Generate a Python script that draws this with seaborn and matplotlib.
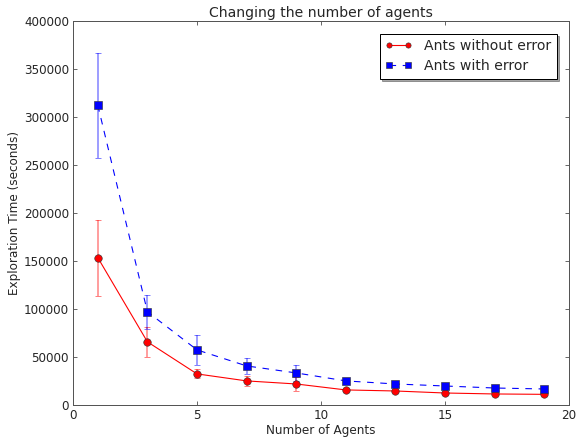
import matplotlib
matplotlib.use("Agg")
import matplotlib.pyplot as plt
import seaborn as sns
import numpy as np
import pandas as pd

agents = [1, 3, 5, 7, 9, 11, 13, 15, 17, 19]
no_err_mean = [153500, 65800, 32400, 25100, 21900, 15700, 14600, 12500, 11500, 11100]
no_err_sd = [39700, 15700, 4700, 5200, 7300, 2000, 2000, 1800, 1500, 1500]
with_err_mean = [312300, 97100, 57400, 40700, 33400, 25100, 21900, 19800, 17700, 16700]
with_err_sd = [54500, 17700, 15700, 7900, 7900, 3500, 3500, 2500, 2500, 2000]
labels = ["Ants without error", "Ants with error"]

sns.set_style("ticks")
plt.rcParams['font.family'] = ['DejaVu Sans']
plt.rcParams['font.size'] = 12

fig = plt.figure(figsize=(577 / 72, 441 / 72), dpi=72)
ax = fig.add_axes([73 / 577, 1 - 405 / 441, (569 - 73) / 577, (405 - 21) / 441])

df = pd.DataFrame({
    "agents": agents * 2,
    "time": no_err_mean + with_err_mean,
    "series": [labels[0]] * len(agents) + [labels[1]] * len(agents),
})

ax.errorbar(agents, no_err_mean, yerr=no_err_sd, fmt='none', ecolor='red',
            alpha=0.5, capsize=3, elinewidth=1.5, zorder=1)
ax.errorbar(agents, with_err_mean, yerr=with_err_sd, fmt='none', ecolor='blue',
            alpha=0.5, capsize=3, elinewidth=1.5, zorder=1)

sns.lineplot(data=df, x="agents", y="time", hue="series", style="series",
             palette={labels[0]: "red", labels[1]: "blue"},
             markers={labels[0]: "o", labels[1]: "s"},
             dashes={labels[0]: "", labels[1]: (6, 6)},
             markersize=7.5, markeredgecolor="#333333", markeredgewidth=0.6,
             linewidth=1.1, ax=ax, zorder=3)

ax.set_xlim(0, 20)
ax.set_ylim(0, 400000)
ax.set_xticks([0, 5, 10, 15, 20])
ax.set_yticks(np.arange(0, 400001, 50000))
ax.set_yticklabels([str(v) for v in range(0, 400001, 50000)])
ax.tick_params(direction='in', length=4, width=0.8, top=True, right=True,
               labelsize=12, pad=4, color='#444444')
for s in ax.spines.values():
    s.set_visible(True)
    s.set_color('#555555')
    s.set_linewidth(1)

ax.set_xlabel("Number of Agents", fontsize=12, labelpad=2)
ax.set_ylabel("Exploration Time (seconds)", fontsize=12, labelpad=3)
ax.set_title("Changing the number of agents", fontsize=14, pad=4)

handles, lbls = ax.get_legend_handles_labels()
leg = ax.legend(handles, lbls, loc="upper right", fontsize=14, frameon=True, shadow=True,
                fancybox=False, borderpad=0.4, handlelength=1.9, handletextpad=0.9,
                labelspacing=0.4, markerscale=0.7, numpoints=2,
                bbox_to_anchor=(0.99, 0.985))
leg.get_frame().set_edgecolor('black')
leg.get_frame().set_linewidth(1)
leg.get_frame().set_alpha(1)

fig.savefig("out.png", dpi=72)
